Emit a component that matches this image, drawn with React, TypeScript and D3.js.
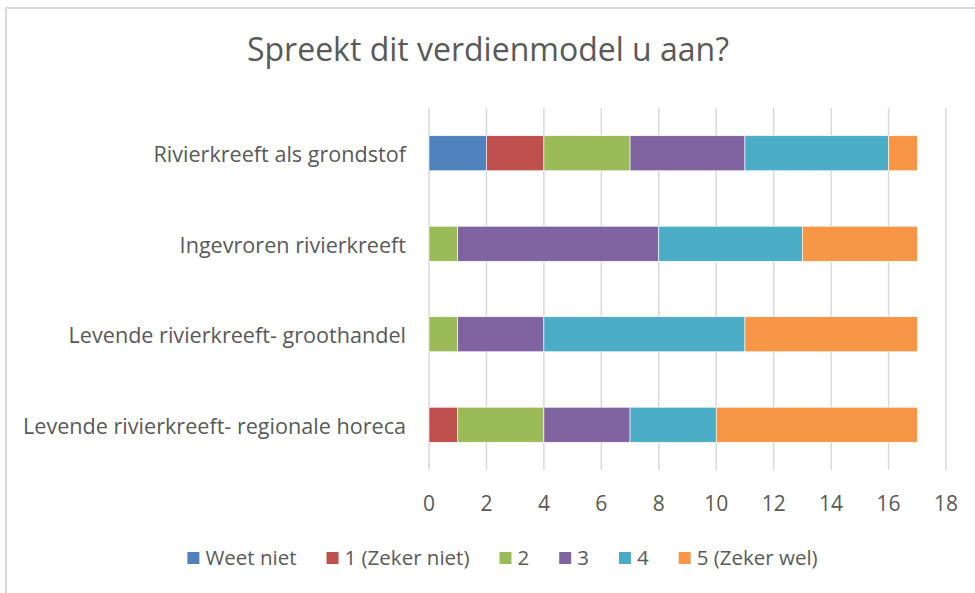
import React, { useEffect, useRef } from "react";
import * as d3 from "d3";

const categories = [
  "Rivierkreeft als grondstof",
  "Ingevroren rivierkreeft",
  "Levende rivierkreeft- groothandel",
  "Levende rivierkreeft- regionale horeca",
];
const seriesNames = ["Weet niet", "1 (Zeker niet)", "2", "3", "4", "5 (Zeker wel)"];
const seriesColors = ["#4F81BD", "#C0504D", "#9BBB59", "#8064A2", "#4BACC6", "#F79646"];
const weetNiet = [2, 0, 0, 0];
const zekerNiet = [2, 0, 0, 1];
const twee = [3, 1, 1, 3];
const drie = [4, 7, 3, 3];
const vier = [5, 5, 7, 3];
const zekerWel = [1, 4, 6, 7];
const xTicks = [0, 2, 4, 6, 8, 10, 12, 14, 16, 18];
const title = "Spreekt dit verdienmodel u aan?";

const FONT = "'Open Sans', Lato, sans-serif";
const TEXT = "#595959";

export default function App() {
  const ref = useRef<SVGSVGElement>(null);

  useEffect(() => {
    const svg = d3.select(ref.current);
    svg.selectAll("*").remove();

    const values = [weetNiet, zekerNiet, twee, drie, vier, zekerWel];
    const rows = categories.map((c, i) => {
      const r: any = { cat: c };
      seriesNames.forEach((s, j) => (r[s] = values[j][i]));
      return r;
    });
    const stacked = d3.stack().keys(seriesNames)(rows);

    const left = 429, right = 946, top = 108, bottom = 470;
    const x = d3.scaleLinear().domain([0, 18]).range([left, right]);
    const y = d3.scaleBand().domain(categories).range([top, bottom]).paddingInner(0.613).paddingOuter(0.3065);

    // frame
    svg.append("rect").attr("x", 0).attr("y", 0).attr("width", 975).attr("height", 593).attr("fill", "#fff");
    svg.append("line").attr("x1", 6).attr("x2", 975).attr("y1", 8).attr("y2", 8).attr("stroke", "#D9D9D9").attr("stroke-width", 2);
    svg.append("line").attr("x1", 6).attr("x2", 6).attr("y1", 7).attr("y2", 593).attr("stroke", "#D9D9D9").attr("stroke-width", 2);

    // title
    svg.append("text").attr("x", 488).attr("y", 61).attr("text-anchor", "middle")
      .attr("font-family", FONT).attr("font-size", 32).attr("fill", TEXT).text(title);

    // grid
    svg.append("g").selectAll("line").data(xTicks).join("line")
      .attr("x1", (d) => x(d)).attr("x2", (d) => x(d)).attr("y1", top).attr("y2", bottom)
      .attr("stroke", "#D9D9D9").attr("stroke-width", 1.5);

    // bars
    svg.append("g").selectAll("g").data(stacked).join("g")
      .attr("fill", (_d, i) => seriesColors[i])
      .selectAll("rect").data((d) => d).join("rect")
      .attr("x", (d) => x(d[0]))
      .attr("width", (d) => x(d[1]) - x(d[0]))
      .attr("y", (d: any) => y(d.data.cat)!)
      .attr("height", y.bandwidth())
      .attr("stroke", "#fff").attr("stroke-width", 0.6);

    // x tick labels
    svg.append("g").selectAll("text").data(xTicks).join("text")
      .attr("x", (d) => x(d)).attr("y", 511).attr("text-anchor", "middle")
      .attr("font-family", FONT).attr("font-size", 21).attr("fill", TEXT).text((d) => String(d));

    // category labels
    svg.append("g").selectAll("text").data(categories).join("text")
      .attr("x", 406).attr("y", (d) => y(d)! + y.bandwidth() / 2 + 9)
      .attr("text-anchor", "end").attr("font-family", FONT).attr("font-size", 21.6).attr("fill", TEXT)
      .text((d) => d);

    // legend
    const lg = svg.append("g");
    const items = lg.selectAll("g").data(seriesNames).join("g");
    items.append("rect").attr("width", 12).attr("height", 12).attr("y", -13)
      .attr("fill", (_d, i) => seriesColors[i]);
    items.append("text").attr("x", 18).attr("y", 0)
      .attr("font-family", FONT).attr("font-size", 20.5).attr("fill", TEXT).text((d) => d);
    const widths: number[] = [];
    items.each(function () {
      const t = (this as SVGGElement).querySelector("text") as SVGTextElement;
      widths.push(18 + t.getComputedTextLength());
    });
    const gap = 30;
    const total = d3.sum(widths) + gap * (widths.length - 1);
    let cx = 502.5 - total / 2;
    items.attr("transform", (_d, i) => {
      const tx = cx;
      cx += widths[i] + gap;
      return `translate(${tx},${565})`;
    });
  }, []);

  return <svg ref={ref} width={975} height={593} style={{ position: "absolute", left: 0, top: 0 }} />;
}
